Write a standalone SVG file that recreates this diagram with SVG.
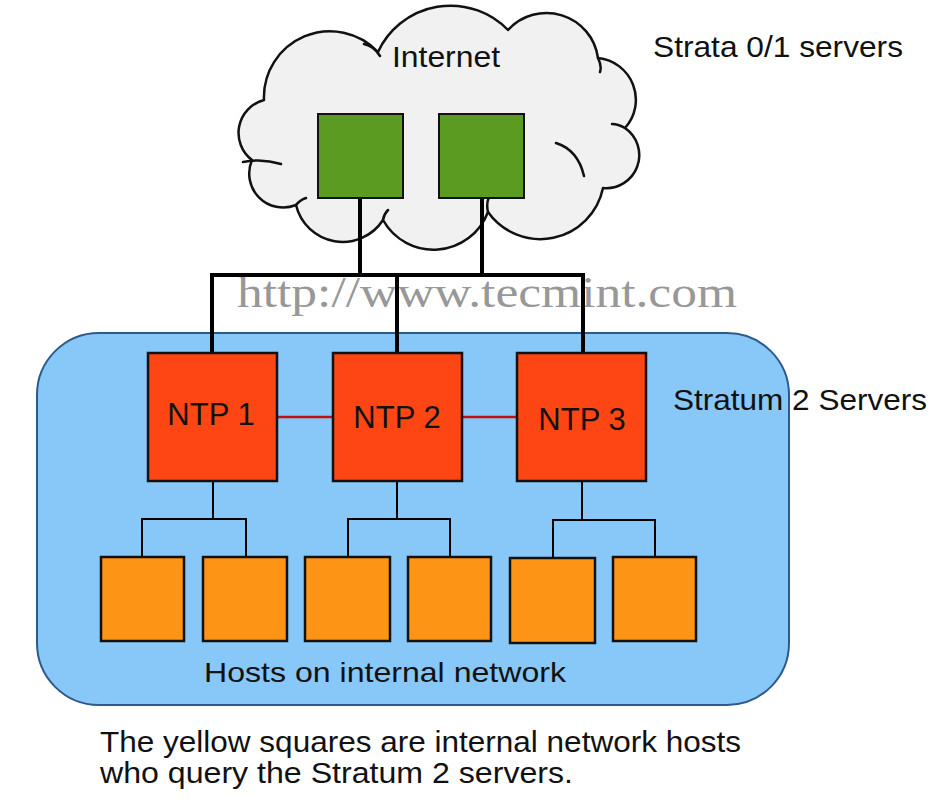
<svg xmlns="http://www.w3.org/2000/svg" width="944" height="799" viewBox="0 0 944 799">
<style>
  .t{font-family:"Liberation Sans",Arial,sans-serif;fill:#111}
  .cloud{fill:#f1f1f1;stroke:#111;stroke-width:2.5;stroke-linejoin:round}
  .detail{fill:none;stroke:#111;stroke-width:2.5;stroke-linecap:round}
  .green{fill:#5b9b22;stroke:#111;stroke-width:2}
  .ntp{fill:#fd4613;stroke:#111;stroke-width:2.5}
  .host{fill:#fd9416;stroke:#111;stroke-width:2.5}
  .thick{fill:none;stroke:#000;stroke-width:4}
  .thin{fill:none;stroke:#000;stroke-width:2}
  .red{fill:none;stroke:#c01010;stroke-width:2.5}
</style>
<rect width="944" height="799" fill="#ffffff"/>

<g id="internet-cloud">
  <path class="cloud" d="M 252 160 A 34 34 0 0 1 264 100 A 66 66 0 0 1 378 52 A 80 80 0 0 1 508 30 A 52 52 0 0 1 598 58 A 42 42 0 0 1 625 128 A 33 33 0 0 1 603 188 A 64 64 0 0 1 488 212 A 58 58 0 0 1 383 220 A 48 48 0 0 1 296 205 A 34 34 0 0 1 252 160 Z"/>
  <path class="detail" d="M 556 143 Q 578 150 584 176 M 243 162 Q 262 158 281 164 M 364 44 Q 374 46 380 56 M 598 58 Q 602 66 600 72 M 488 212 Q 486 204 489 197 M 296 205 Q 300 200 306 198 M 625 128 Q 618 124 612 124 M 383 220 Q 384 214 388 210"/>
  <text class="t" x="446" y="67" font-size="29" text-anchor="middle" textLength="108" lengthAdjust="spacingAndGlyphs">Internet</text>
</g>

<g id="strata-label"><text class="t" x="653" y="57" font-size="29" textLength="250" lengthAdjust="spacingAndGlyphs">Strata 0/1 servers</text></g>

<g id="stratum2-zone">
  <rect x="37" y="333" width="752" height="372" rx="62" ry="62" fill="#88c8f8" stroke="#2c5a8a" stroke-width="2"/>
</g>

<g id="watermark"><text x="237" y="307" font-family="'Liberation Serif','Times New Roman',serif" font-size="44" fill="#8a8a8a" fill-opacity="0.9" textLength="500" lengthAdjust="spacingAndGlyphs">http://www.tecmint.com</text></g>

<g id="connectors">
  <path class="thick" d="M 360 198 V 275 M 482 198 V 275 M 212 275 H 583 M 212 273 V 353 M 397 275 V 353 M 583 273 V 353"/>
  <path class="red" d="M 277 417 H 333 M 462 417 H 517"/>
  <path class="thin" d="M 213 481 V 519 M 142 557 V 519 H 246 V 557 M 397 481 V 519 M 348 557 V 519 H 450 V 557 M 582 481 V 520 M 553 558 V 520 H 655 V 557"/>
</g>

<g id="green1"><rect class="green" x="318" y="114" width="85" height="84"/></g>
<g id="green2"><rect class="green" x="439" y="114" width="85" height="84"/></g>

<g id="ntp1"><rect class="ntp" x="148" y="353" width="129" height="128"/><text class="t" x="211" y="425" font-size="31" text-anchor="middle">NTP 1</text></g>
<g id="ntp2"><rect class="ntp" x="333" y="353" width="129" height="128"/><text class="t" x="397" y="428" font-size="31" text-anchor="middle">NTP 2</text></g>
<g id="ntp3"><rect class="ntp" x="517" y="353" width="129" height="128"/><text class="t" x="582" y="430" font-size="31" text-anchor="middle">NTP 3</text></g>

<g id="host1"><rect class="host" x="101" y="557" width="83" height="84"/></g>
<g id="host2"><rect class="host" x="203" y="557" width="84" height="84"/></g>
<g id="host3"><rect class="host" x="305" y="557" width="85" height="84"/></g>
<g id="host4"><rect class="host" x="408" y="557" width="83" height="84"/></g>
<g id="host5"><rect class="host" x="510" y="558" width="85" height="85"/></g>
<g id="host6"><rect class="host" x="613" y="557" width="83" height="84"/></g>

<g id="labels">
  <text class="t" x="673" y="410" font-size="29" textLength="254" lengthAdjust="spacingAndGlyphs">Stratum 2 Servers</text>
  <text class="t" x="204" y="682" font-size="28" textLength="362" lengthAdjust="spacingAndGlyphs">Hosts on internal network</text>
  <text class="t" x="100" y="752" font-size="29" textLength="641" lengthAdjust="spacingAndGlyphs">The yellow squares are internal network hosts</text>
  <text class="t" x="100" y="783" font-size="29" textLength="473" lengthAdjust="spacingAndGlyphs">who query the Stratum 2 servers.</text>
</g>
</svg>
